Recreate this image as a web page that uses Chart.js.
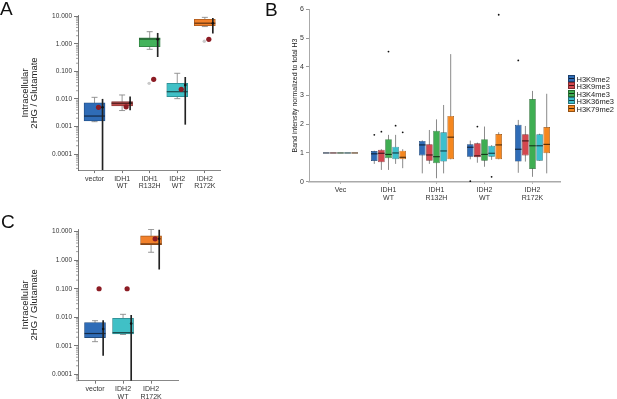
<!DOCTYPE html>
<html>
<head>
<meta charset="utf-8">
<title>2HG and histone methylation</title>
<script src="https://cdn.jsdelivr.net/npm/chart.js@4.4.1/dist/chart.umd.min.js"></script>
<style>
body { margin: 0; background: #fff; }
#page { position: relative; width: 617px; height: 399px; overflow: hidden; font-family: "Liberation Sans", Arial, sans-serif; }
canvas { position: absolute; }
.letter { position: absolute; font-size: 19px; line-height: 19px; color: #111; }
#legendB { position: absolute; left: 568px; top: 75px; font-size: 7.5px; color: #222; }
.item { height: 7.4px; line-height: 7.4px; white-space: nowrap; }
.swatch { display: inline-block; width: 5px; height: 5px; margin-right: 1.5px; vertical-align: -0.5px; }
</style>
</head>
<body>
<div id="page">
  <canvas id="chartA" width="240" height="200" style="left:0;top:0"></canvas>
  <canvas id="chartB" width="377" height="205" style="left:240px;top:0"></canvas>
  <canvas id="chartC" width="240" height="199" style="left:0;top:200px"></canvas>
  <div class="letter" style="left:0;top:-1px">A</div>
  <div class="letter" style="left:265px;top:0">B</div>
  <div class="letter" style="left:1px;top:212px">C</div>
  <div id="legendB"></div>
</div>
<script>
// ---- panel A: intracellular 2HG / glutamate ----
const categoriesA = [['vector'], ['IDH1', 'WT'], ['IDH1', 'R132H'], ['IDH2', 'WT'], ['IDH2', 'R172K']];
const colorsA = ['#2f6cb7', '#bd4c4b', '#44b35b', '#40c0c6', '#f2812b'];
const whiskerLowA  = [0.0015, 0.0038, 0.64, 0.0103, 4.3];
const q1A          = [0.0016, 0.0056, 0.80, 0.0121, 4.6];
const medianA      = [0.0024, 0.0070, 1.52, 0.0184, 5.7];
const q3A          = [0.0073, 0.0080, 1.69, 0.037, 7.9];
const whiskerHighA = [0.0115, 0.014, 2.8, 0.086, 9.3];
const meanA        = [0.005, 0.0052, 0.052, 0.0225, 1.48];
const otherA       = [null, null, 0.037, null, 1.25];
const errLowA      = [0.00001, 0.0040, 0.345, 0.0012, 2.45];
const errHighA     = [0.0098, 0.0121, 2.45, 0.0615, 8.6];
const errMidA      = [0.005, 0.0073, 1.48, 0.032, 5.7];

// ---- panel C ----
const categoriesC = [['vector'], ['IDH2', 'WT'], ['IDH2', 'R172K']];
const colorsC = ['#2f6cb7', '#40c0c6', '#f2812b'];
const whiskerLowC  = [0.0014, 0.0025, 1.9];
const q1C          = [0.00195, 0.0026, 3.5];
const medianC      = [0.0027, 0.0029, 3.7];
const q3C          = [0.0065, 0.0092, 7.1];
const whiskerHighC = [0.0076, 0.0127, 12.0];
const meanC        = [0.1, 0.1, 5.6];
const otherC       = [null, null, null];
const errLowC      = [0.00046, 0.00001, 0.49];
const errHighC     = [0.0076, 0.0117, 11.4];
const errMidC      = [0.0039, 0.006, 5.6];

const logTicks = [0.0001, 0.001, 0.01, 0.1, 1, 10];
const logTickLabels = ['0.0001', '0.001', '0.010', '0.100', '1.000', '10.000'];

// ---- panel B: band intensity ----
const categoriesB = [['Vec'], ['IDH1', 'WT'], ['IDH1', 'R132H'], ['IDH2', 'WT'], ['IDH2', 'R172K']];
const seriesB = ['H3K9me2', 'H3K9me3', 'H3K4me3', 'H3K36me3', 'H3K79me2'];
const colorsB = ['#2f6cb7', '#d4474f', '#3fae52', '#3dbfcd', '#f5871f'];
// [low whisker, q1, median, q3, high whisker] for each category
const h3k9me2  = [[1, 1, 1, 1, 1], [0.62, 0.72, 0.97, 1.07, 1.08], [0.29, 0.91, 1.28, 1.42, 1.44], [0.78, 0.87, 1.20, 1.30, 1.43], [0.31, 0.70, 1.13, 1.98, 2.15]];
const h3k9me3  = [[1, 1, 1, 1, 1], [0.41, 0.68, 0.99, 1.11, 1.13], [0.62, 0.73, 0.93, 1.30, 1.80], [0.66, 0.85, 0.90, 1.34, 1.36], [0.70, 0.91, 1.42, 1.65, 1.94]];
const h3k4me3  = [[1, 1, 1, 1, 1], [0.41, 0.82, 0.95, 1.48, 1.63], [0.12, 0.64, 0.87, 1.77, 2.17], [0.52, 0.73, 0.95, 1.48, 1.92], [0.17, 0.44, 1.25, 2.88, 3.16]];
const h3k36me3 = [[1, 1, 1, 1, 1], [0.62, 0.78, 1.00, 1.22, 1.63], [0.29, 0.70, 1.07, 1.72, 2.67], [0.76, 0.87, 0.99, 1.25, 1.27], [0.73, 0.73, 1.25, 1.65, 1.67]];
const h3k79me2 = [[1, 1, 1, 1, 1], [0.47, 0.78, 0.85, 1.08, 1.13], [0.78, 0.78, 1.55, 2.29, 4.44], [0.78, 0.78, 1.28, 1.66, 1.72], [0.29, 0.99, 1.30, 1.90, 3.06]];
const outliersH3K9me2  = [[], [1.63], [], [0.02], [4.22]];
const outliersH3K9me3  = [[], [1.74], [], [1.92], []];
const outliersH3K4me3  = [[], [4.53], [], [], []];
const outliersH3K36me3 = [[], [1.95], [], [0.17], []];
const outliersH3K79me2 = [[], [1.72], [], [5.81], []];

Chart.defaults.font.family = '"Liberation Sans", Arial, sans-serif';
Chart.defaults.color = '#333';
Chart.defaults.animation = false;

function shade(hex, f) {
    const n = parseInt(hex.slice(1), 16);
    const r = Math.round(((n >> 16) & 255) * f);
    const g = Math.round(((n >> 8) & 255) * f);
    const b = Math.round((n & 255) * f);
    return 'rgb(' + r + ',' + g + ',' + b + ')';
}

// whiskers behind the boxes, medians and outliers on top of them
function boxPlotPlugin(sets, look) {
    return {
        id: 'boxplot',
        beforeDatasetsDraw(chart) {
            const ctx = chart.ctx, a = chart.chartArea, y = chart.scales.y;
            ctx.save();
            ctx.beginPath();
            ctx.rect(a.left, a.top, a.width, a.height);
            ctx.clip();
            ctx.strokeStyle = look.whisker;
            ctx.lineWidth = look.whiskerWidth;
            sets.forEach(set => {
                chart.getDatasetMeta(set.dataset).data.forEach((bar, i) => {
                    const lo = y.getPixelForValue(set.low[i]);
                    const hi = y.getPixelForValue(set.high[i]);
                    ctx.beginPath();
                    ctx.moveTo(bar.x, lo);
                    ctx.lineTo(bar.x, hi);
                    if (look.cap) {
                        ctx.moveTo(bar.x - look.cap, lo); ctx.lineTo(bar.x + look.cap, lo);
                        ctx.moveTo(bar.x - look.cap, hi); ctx.lineTo(bar.x + look.cap, hi);
                    }
                    ctx.stroke();
                });
            });
            ctx.restore();
        },
        afterDatasetDraw(chart, args) {
            const set = sets.find(s => s.dataset === args.index);
            if (!set) return;
            const ctx = chart.ctx, y = chart.scales.y;
            ctx.save();
            chart.getDatasetMeta(set.dataset).data.forEach((bar, i) => {
                const m = y.getPixelForValue(set.median[i]);
                ctx.strokeStyle = set.medianColors[i];
                ctx.lineWidth = look.medianWidth;
                ctx.beginPath();
                ctx.moveTo(bar.x - bar.width / 2, m);
                ctx.lineTo(bar.x + bar.width / 2, m);
                ctx.stroke();
                (set.outliers ? set.outliers[i] : []).forEach(v => {
                    ctx.fillStyle = '#111';
                    ctx.beginPath();
                    ctx.arc(bar.x, y.getPixelForValue(v), look.outlierRadius, 0, Math.PI * 2);
                    ctx.fill();
                });
            });
            ctx.restore();
        }
    };
}

const logMinorTicks = {
    id: 'logMinorTicks',
    afterDraw(chart) {
        const y = chart.scales.y, ctx = chart.ctx, x0 = chart.chartArea.left;
        ctx.save();
        ctx.strokeStyle = '#777';
        ctx.lineWidth = 0.7;
        ctx.beginPath();
        for (let e = -5; e <= 1; e++) {
            for (let k = 2; k <= 9; k++) {
                const v = k * Math.pow(10, e);
                if (v < y.min || v > y.max) continue;
                const py = y.getPixelForValue(v);
                ctx.moveTo(x0 - 2, py);
                ctx.lineTo(x0, py);
            }
        }
        ctx.stroke();
        ctx.restore();
    }
};

const offsetMean = 0.145, offsetErr = 0.29, offsetOther = -0.02;

function logPanel(id, cats, colors, s, frame) {
    const at = (i, d) => i + 1 + d;
    const points = (vals, d) => vals.map((v, i) => v == null ? null : {x: at(i, d), y: v}).filter(p => p);
    return new Chart(document.getElementById(id), {
        type: 'bar',
        data: {
            datasets: [
                { data: cats.map((c, i) => ({x: at(i, 0), y: [s.q1[i], s.q3[i]]})),
                  backgroundColor: colors, borderColor: colors.map(c => shade(c, 0.7)), borderWidth: 0.8,
                  borderSkipped: false, barThickness: 21, grouped: false, order: 5 },
                { data: cats.map((c, i) => ({x: at(i, offsetErr), y: [s.errLow[i], s.errHigh[i]]})),
                  backgroundColor: '#222', barThickness: 1, grouped: false, order: 4 },
                { type: 'scatter', data: points(s.other, offsetOther), pointRadius: 1.7, backgroundColor: '#c9c9c9', borderWidth: 0, order: 3 },
                { type: 'scatter', data: points(s.mean, offsetMean), pointRadius: 2.6, backgroundColor: '#8c1c24', borderWidth: 0, order: 2 },
                { type: 'scatter', data: points(s.errMid, offsetErr), pointRadius: 1.3, backgroundColor: '#111', borderWidth: 0, order: 1 }
            ]
        },
        options: {
            responsive: false,
            layout: { padding: { top: frame.padTop, right: frame.padRight, left: 0, bottom: 0 } },
            plugins: { legend: { display: false }, tooltip: { enabled: false } },
            scales: {
                x: {
                    type: 'linear', min: frame.xMin, max: frame.xMax, bounds: 'data', offset: false,
                    afterBuildTicks: sc => { sc.ticks = cats.map((c, i) => ({value: i + 1})); },
                    afterFit: sc => { sc.height = frame.xAxisHeight; },
                    ticks: { callback: (v, i) => cats[i], autoSkip: false, maxRotation: 0, minRotation: 0,
                             font: { size: 7, lineHeight: 1.05 }, color: '#333', padding: 2 },
                    grid: { drawOnChartArea: false, offset: false, tickLength: 3, tickColor: '#777' },
                    border: { color: '#888', width: 1 }
                },
                y: {
                    type: 'logarithmic', min: frame.yMin, max: frame.yMax, bounds: 'data', beginAtZero: false,
                    afterBuildTicks: sc => { sc.ticks = logTicks.map(v => ({value: v})); },
                    afterFit: sc => { sc.width = 78; },
                    ticks: { callback: v => logTickLabels[logTicks.indexOf(v)], autoSkip: false,
                             font: { size: 6.5 }, color: '#333', padding: 2 },
                    grid: { drawOnChartArea: false, tickLength: 4, tickColor: '#555', tickWidth: 0.8 },
                    border: { color: '#555', width: 0.8 },
                    title: { display: true, text: ['Intracellular', '2HG / Glutamate'], color: '#222',
                             font: { size: 9.5, lineHeight: 0.95 }, padding: { top: 20.5 } }
                }
            }
        },
        plugins: [
            boxPlotPlugin([{ dataset: 0, low: s.low, median: s.median, high: s.high,
                             medianColors: colors.map(c => shade(c, 0.4)) }],
                          { cap: 3, whisker: '#8a8a8a', whiskerWidth: 0.9, medianWidth: 1.2, outlierRadius: 1 }),
            logMinorTicks
        ]
    });
}

logPanel('chartA', categoriesA, colorsA, {
    low: whiskerLowA, q1: q1A, median: medianA, q3: q3A, high: whiskerHighA,
    mean: meanA, other: otherA, errLow: errLowA, errHigh: errHighA, errMid: errMidA
}, { xMin: 0.40, xMax: 5.55, yMin: 0.000026, yMax: 10.5, padTop: 15.9, padRight: 20, xAxisHeight: 29.9 });

logPanel('chartC', categoriesC, colorsC, {
    low: whiskerLowC, q1: q1C, median: medianC, q3: q3C, high: whiskerHighC,
    mean: meanC, other: otherC, errLow: errLowC, errHigh: errHighC, errMid: errMidC
}, { xMin: 0.393, xMax: 3.96, yMin: 0.00006, yMax: 12.4, padTop: 29, padRight: 62, xAxisHeight: 18.3 });

// ---- panel B chart ----
const statsB = [h3k9me2, h3k9me3, h3k4me3, h3k36me3, h3k79me2];
const outliersB = [outliersH3K9me2, outliersH3K9me3, outliersH3K4me3, outliersH3K36me3, outliersH3K79me2];

new Chart(document.getElementById('chartB'), {
    type: 'bar',
    data: {
        datasets: seriesB.map((name, s) => ({
            label: name,
            data: categoriesB.map((c, i) => ({x: i + 1, y: [statsB[s][i][1], statsB[s][i][3]]})),
            backgroundColor: colorsB[s],
            borderColor: shade(colorsB[s], 0.6),
            borderWidth: 0.7,
            borderSkipped: false,
            categoryPercentage: 0.74,
            barPercentage: 0.93
        }))
    },
    options: {
        responsive: false,
        layout: { padding: { top: 9.3, right: 57, left: 0, bottom: 0 } },
        plugins: { legend: { display: false }, tooltip: { enabled: false } },
        scales: {
            x: {
                type: 'linear', min: 0.344, max: 5.573, bounds: 'data', offset: false,
                afterBuildTicks: sc => { sc.ticks = categoriesB.map((c, i) => ({value: i + 1})); },
                afterFit: sc => { sc.height = 23.3; },
                ticks: { callback: (v, i) => categoriesB[i], autoSkip: false, maxRotation: 0, minRotation: 0,
                         font: { size: 7, lineHeight: 1.15 }, color: '#333', padding: 2 },
                grid: { drawOnChartArea: false, offset: false, tickLength: 2, tickColor: '#999' },
                border: { color: '#aaa', width: 1.5 }
            },
            y: {
                min: 0, max: 6,
                afterFit: sc => { sc.width = 69; },
                ticks: { stepSize: 1, font: { size: 7 }, color: '#333', padding: 2 },
                grid: { drawOnChartArea: false, tickLength: 3, tickColor: '#999' },
                border: { color: '#aaa', width: 1 },
                title: { display: true, text: 'Band intensity normalized to total H3', color: '#222',
                         font: { size: 7, lineHeight: 1.2 }, padding: { top: 50.8 } }
            }
        }
    },
    plugins: [boxPlotPlugin(seriesB.map((name, s) => ({
        dataset: s,
        low: statsB[s].map(r => r[0]),
        median: statsB[s].map(r => r[2]),
        high: statsB[s].map(r => r[4]),
        medianColors: categoriesB.map(() => shade(colorsB[s], 0.3)),
        outliers: outliersB[s]
    })), { cap: 0, whisker: '#8a8a8a', whiskerWidth: 1, medianWidth: 1.1, outlierRadius: 0.9 })]
});

// legend for panel B
const legend = document.getElementById('legendB');
seriesB.forEach((name, s) => {
    const row = document.createElement('div');
    row.className = 'item';
    const sw = document.createElement('span');
    sw.className = 'swatch';
    const c = colorsB[s], d = shade(c, 0.3);
    sw.style.background = 'linear-gradient(' + c + ' 0 38%, ' + d + ' 38% 62%, ' + c + ' 62% 100%)';
    sw.style.border = '0.5px solid ' + shade(c, 0.6);
    row.appendChild(sw);
    row.appendChild(document.createTextNode(name));
    legend.appendChild(row);
});
</script>
</body>
</html>
